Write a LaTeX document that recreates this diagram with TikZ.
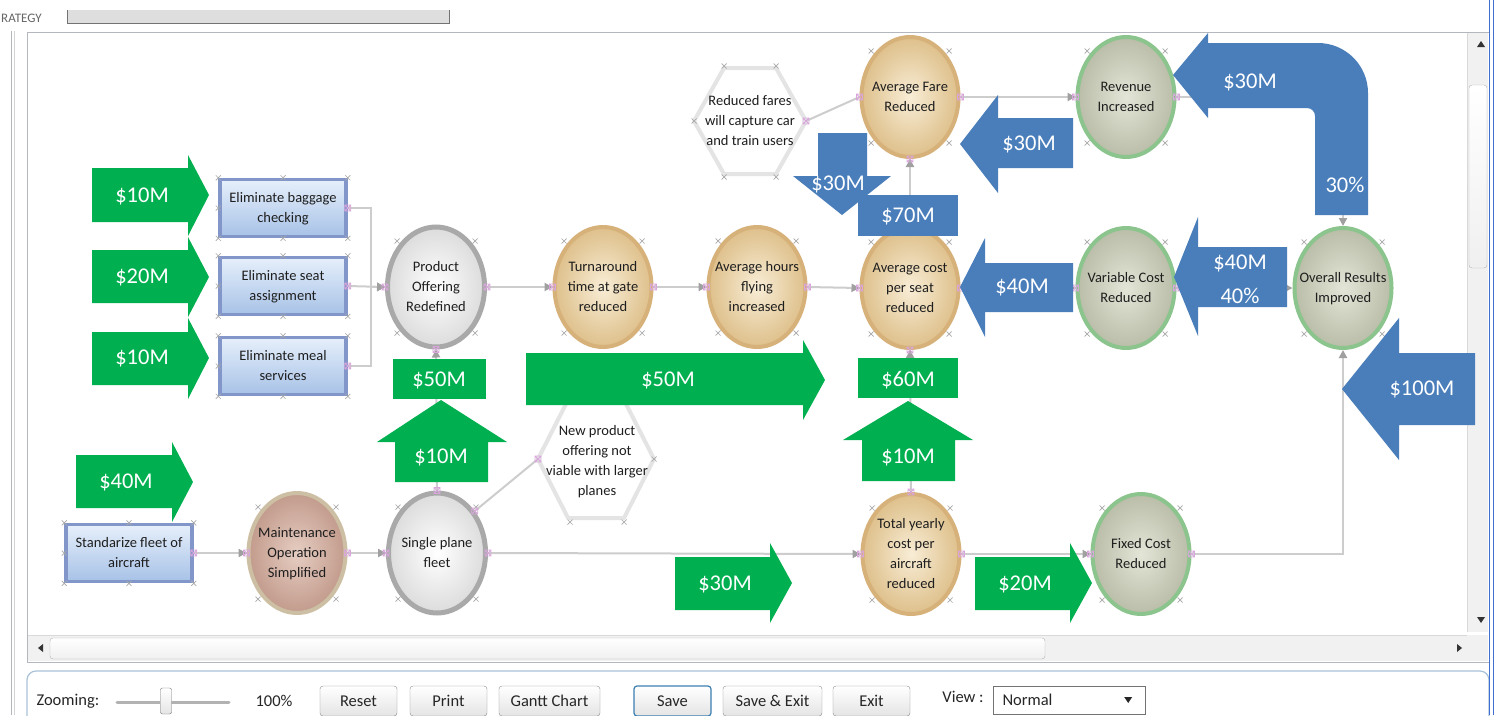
\documentclass[tikz,border=0pt]{standalone}
\usepackage{fontspec}
\setmainfont{Carlito}
\usetikzlibrary{shapes.geometric,arrows.meta,calc}

\definecolor{gArrow}{HTML}{00B050}
\definecolor{bArrow}{HTML}{4A7EBB}
\definecolor{txt}{HTML}{1E1E1E}
\definecolor{connGray}{HTML}{CDCDCD}
\definecolor{tipGray}{HTML}{A0A0A0}
\definecolor{xgray}{HTML}{A8A8A8}
\definecolor{pinkm}{HTML}{D9A6DC}
\definecolor{grayRing}{HTML}{A9A9A9}
\definecolor{grayOut}{HTML}{DCDCDC}
\definecolor{tanRing}{HTML}{D6B179}
\definecolor{tanIn}{HTML}{F8EDD6}
\definecolor{tanOut}{HTML}{DEC08B}
\definecolor{mntRing}{HTML}{CDBFA4}
\definecolor{mntIn}{HTML}{E6CDC2}
\definecolor{mntOut}{HTML}{C29B8C}
\definecolor{grnRing}{HTML}{8CC48E}
\definecolor{grnIn}{HTML}{E3E5D7}
\definecolor{grnOut}{HTML}{BABDA8}
\definecolor{boxRing}{HTML}{8396C9}
\definecolor{boxTop}{HTML}{E6EFFB}
\definecolor{boxBot}{HTML}{A7C2E7}
\definecolor{hexRing}{HTML}{E4E4E4}
\definecolor{frameGray}{HTML}{B4B8BE}
\definecolor{sbBg}{HTML}{F1F1F1}
\definecolor{thumbRing}{HTML}{B5B5B5}
\definecolor{toolRing}{HTML}{A9C2DA}
\definecolor{btnRing}{HTML}{8C8C8C}
\definecolor{btnBot}{HTML}{E4E4E4}
\definecolor{saveBlue}{HTML}{3C7FB1}
\definecolor{edgeBlue}{HTML}{3F6FD0}

% text of a node, centred on the node without widening its shape
\newcommand\nodetxt[1]{\makebox[0pt]{\begin{tabular}{@{}c@{}}#1\end{tabular}}}

\tikzset{
  every node/.style={font=\fontsize{14.5}{20}\selectfont, text=txt},
  circ/.style={ellipse, minimum width=97, minimum height=120, inner sep=0, line width=4},
  graycirc/.style={circ, draw=grayRing, line width=5, inner color=white, outer color=grayOut},
  tancirc/.style={circ, draw=tanRing, inner color=tanIn, outer color=tanOut},
  mntcirc/.style={circ, draw=mntRing, inner color=mntIn, outer color=mntOut},
  grncirc/.style={circ, draw=grnRing, inner color=grnIn, outer color=grnOut},
  actbox/.style={rectangle, draw=boxRing, line width=3.5, top color=boxTop, bottom color=boxBot,
    minimum width=126, minimum height=57, inner sep=0},
  hexline/.style={draw=hexRing, line width=4, fill=white, line join=round},
  cline/.style={draw=connGray, line width=2},
  carrow/.style={cline, -{Triangle[length=8pt,width=8pt,color=tipGray]}},
  glabel/.style={font=\fontsize{22.5}{26}\selectfont, text=white, inner sep=0},
  uitext/.style={font=\fontsize{16.5}{18}\selectfont, text=black!85},
  btn/.style={rectangle, draw=btnRing, rounded corners=3, top color=white, bottom color=btnBot,
    minimum height=30, inner sep=0, uitext},
  xm/.pic={\draw[xgray, line width=0.7pt] (-2.5,-2.5) -- (2.5,2.5) (-2.5,2.5) -- (2.5,-2.5);},
  pm/.pic={\draw[pinkm, line width=0.8pt] (-3,-3) rectangle (3,3) (-3,-3) -- (3,3) (-3,3) -- (3,-3);}
}

\begin{document}
\begin{tikzpicture}[x=1pt, y=-1pt]
\useasboundingbox (0,0) rectangle (1496,715);
\fill[white] (0,0) rectangle (1496,715);

% ---------- window chrome ----------
\node[anchor=west, font=\fontsize{13}{14}\selectfont, text=black!60, inner sep=0] (hdr) at (1,18) {RATEGY};
\fill[black!13] (67,10) rectangle (450,23);
\draw[black!55, line width=1] (67.5,10) -- (67.5,23) -- (449.5,23) -- (449.5,10);
\draw[frameGray, line width=1] (11,31) -- (11,715);
\draw[frameGray!60, line width=1] (14,31) -- (14,715);
\draw[frameGray, line width=1] (27,662) -- (27,32) -- (1489,32);

% vertical scrollbar
\fill[sbBg] (1467,33) rectangle (1488,632);
\draw[black!15] (1467,33) -- (1467,632);
\fill[black!80] (1477,47) -- (1485,47) -- (1481,41) -- cycle;
\draw[thumbRing, rounded corners=3, top color=white, bottom color=black!6] (1469,85) rectangle (1487,268);
\fill[black!80] (1477,617) -- (1485,617) -- (1481,623) -- cycle;

% horizontal scrollbar
\fill[sbBg] (28,635) rectangle (1488,661);
\draw[black!15] (28,635) -- (1467,635);
\fill[black!80] (43,644) -- (43,652) -- (38,648) -- cycle;
\fill[black!80] (1457,644) -- (1457,652) -- (1462,648) -- cycle;
\draw[thumbRing, rounded corners=3, top color=white, bottom color=black!6] (50,638) rectangle (1045,659);
\draw[frameGray, line width=1] (27,662) -- (1489,662);

% toolbar
\draw[toolRing, line width=1.2, rounded corners=9] (27,735) -- (27,671) -- (1489,671) -- (1489,735);
\node[uitext, anchor=west] (zoomtxt) at (33,701) {Zooming:};
\draw[black!30, line width=3, line cap=round] (117,702) -- (229,702);
\node[draw=black!55, rounded corners=2, top color=white, bottom color=black!10,
      minimum width=11, minimum height=26, inner sep=0] (zthumb) at (166,701) {};
\node[uitext] (zoompct) at (274,701) {100\%};
\node[btn, minimum width=77] (breset) at (358.5,701) {Reset};
\node[btn, minimum width=77] (bprint) at (448.5,701) {Print};
\node[btn, minimum width=101] (bgantt) at (549.5,701) {Gantt Chart};
\node[btn, minimum width=77, draw=saveBlue, line width=1.2] (bsave) at (672.5,701) {Save};
\node[btn, minimum width=99] (bsavex) at (772.5,701) {Save \& Exit};
\node[btn, minimum width=77] (bexit) at (871.5,701) {Exit};
\node[uitext] (viewtxt) at (963,697) {View :};
\node[rectangle, draw=black!55, fill=white, minimum width=152, minimum height=28, inner sep=0] (view) at (1069,700) {};
\node[uitext, anchor=west] (viewval) at (999,700) {Normal};
\fill[black!85] ([xshift=-21,yshift=3]view.east) -- ([xshift=-13,yshift=3]view.east) -- ([xshift=-17,yshift=-3]view.east) -- cycle;

% right edge of the window
\draw[edgeBlue, line width=1] (1489.5,0) -- (1489.5,715);
\draw[edgeBlue, line width=1] (1493.5,0) -- (1493.5,715);

% ---------- hexagon notes ----------
\draw[hexline] (694,121) -- (724,68) -- (776,68) -- (806,121) -- (776,174) -- (724,174) -- cycle;
\node (rf) at (750,121) {\nodetxt{Reduced fares\\will capture car\\and train users}};
\coordinate (rf-e) at (806,121);
\draw[hexline] (538,459) -- (568,400) -- (624,400) -- (654,459) -- (624,518) -- (568,518) -- cycle;
\node (np) at (597,461) {\nodetxt{New product\\offering not\\viable with larger\\planes}};
\coordinate (np-w) at (538,459);
\foreach \p in {(694,121),(724,66),(776,66),(724,177),(776,177),(654,459),(570,522),(624,522)}
  \pic at \p {xm};

% ---------- action boxes ----------
\node[actbox] (bag) at (283,208) {\nodetxt{Eliminate baggage\\checking}};
\node[actbox] (seat) at (283,286) {\nodetxt{Eliminate seat\\assignment}};
\node[actbox] (meal) at (283,366) {\nodetxt{Eliminate meal\\services}};
\node[actbox] (std) at (129,553) {\nodetxt{Standarize fleet of\\aircraft}};

% ---------- outcome circles ----------
\node[graycirc] (po) at (436,287) {\nodetxt{Product\\Offering\\Redefined}};
\node[tancirc] (ta) at (603,287) {\nodetxt{Turnaround\\time at gate\\reduced}};
\node[tancirc] (ah) at (757,287) {\nodetxt{Average hours\\flying\\increased}};
\node[tancirc] (ac) at (910,288) {\nodetxt{Average cost\\per seat\\reduced}};
\node[tancirc] (af) at (910,97) {\nodetxt{Average Fare\\Reduced}};
\node[grncirc] (rev) at (1126,97) {\nodetxt{Revenue\\Increased}};
\node[grncirc] (vc) at (1126,288) {\nodetxt{Variable Cost\\Reduced}};
\node[grncirc] (orr) at (1343,288) {\nodetxt{Overall Results\\Improved}};
\node[mntcirc] (mo) at (297,553) {\nodetxt{Maintenance\\Operation\\Simplified}};
\node[graycirc] (sp) at (437,553) {\nodetxt{Single plane\\fleet}};
\node[tancirc] (ty) at (911,554) {\nodetxt{Total yearly\\cost per\\aircraft\\reduced}};
\node[grncirc] (fc) at (1141,554) {\nodetxt{Fixed Cost\\Reduced}};

% selection handles
\foreach \n in {po,ta,ah,ac,af,rev,vc,orr,mo,sp,ty,fc}{
  \foreach \dx/\dy in {-39/-46,39/-46,-39/46,39/46}
    \pic at ($(\n.center)+(\dx,\dy)$) {xm};
}
\foreach \n in {bag,seat,meal,std}{
  \foreach \a in {north west,north,north east,south west,south,south east,west}
    \pic at (\n.\a) {xm};
}

% ---------- connectors ----------
\draw[carrow] (bag.east) -| ($(po.west)+(-14,0)$) -- (po.west);
\draw[carrow] (meal.east) -| ($(po.west)+(-14,0)$) -- (po.west);
\draw[carrow] (seat.east) -- (po.west);
\draw[carrow] (po.east) -- (ta.west);
\draw[carrow] (ta.east) -- (ah.west);
\draw[carrow] (ah.east) -- (ac.west);
\draw[carrow] (ac.north) -- (af.south);
\draw[cline] (rf-e) -- (af.west);
\draw[carrow] (af.east) -- (rev.west);
\draw[carrow] (rev.east) -| (orr.north);
\draw[carrow] (ac.east) -- (vc.west);
\draw[carrow] (vc.east) -- (orr.west);
\draw[carrow] (std.east) -- (mo.west);
\draw[carrow] (mo.east) -- (sp.west);
\draw[carrow] (sp.east) -- (ty.west);
\draw[carrow] (sp.north) -- (po.south);
\draw[cline] (sp.48) -- (np-w);
\draw[carrow] (ty.north) -- (ac.south);
\draw[carrow] (ty.east) -- (fc.west);
\draw[carrow] (fc.east) -| (orr.south);

% connection ports
\foreach \p in {bag.east,seat.east,meal.east,po.west,po.east,po.south,ta.west,ta.east,
                ah.west,ah.east,ac.west,ac.east,ac.north,ac.south,af.south,af.west,af.east,
                rev.west,rev.east,vc.west,vc.east,std.east,mo.west,mo.east,sp.west,sp.east,
                sp.north,sp.48,ty.west,ty.east,ty.north,fc.west,fc.east}
  \pic at (\p) {pm};
\pic at (rf-e) {pm};
\pic at (np-w) {pm};

% ---------- green value arrows ----------
\fill[gArrow] (92,168) -- (188,168) -- (188,155) -- (209,195) -- (188,236) -- (188,222) -- (92,222) -- cycle;
\node[glabel] (g1) at (142,196) {\$10M};
\fill[gArrow] (92,250) -- (188,250) -- (188,237) -- (209,277) -- (188,317) -- (188,303) -- (92,303) -- cycle;
\node[glabel] (g2) at (142,277) {\$20M};
\fill[gArrow] (92,332) -- (188,332) -- (188,318) -- (209,358) -- (188,399) -- (188,385) -- (92,385) -- cycle;
\node[glabel] (g3) at (142,358) {\$10M};
\fill[gArrow] (76,455) -- (172,455) -- (172,442) -- (193,482) -- (172,522) -- (172,508) -- (76,508) -- cycle;
\node[glabel] (g4) at (126,482) {\$40M};
\fill[gArrow] (393,359) rectangle (486,399);
\node[glabel] (g5) at (439,380) {\$50M};
\fill[gArrow] (395,482) -- (395,442) -- (377,442) -- (441,400) -- (507,442) -- (488,442) -- (488,482) -- cycle;
\node[glabel] (g6) at (441,457) {\$10M};
\fill[gArrow] (526,353) -- (803,353) -- (803,340) -- (825,380) -- (803,420) -- (803,405) -- (526,405) -- cycle;
\node[glabel] (g7) at (668,380) {\$50M};
\fill[gArrow] (858,358) rectangle (958,398);
\node[glabel] (g8) at (908,380) {\$60M};
\fill[gArrow] (862,481) -- (862,440) -- (843,440) -- (908,401) -- (973,440) -- (955,440) -- (955,481) -- cycle;
\node[glabel] (g9) at (908,457) {\$10M};
\fill[gArrow] (675,557) -- (770,557) -- (770,543) -- (792,583) -- (770,623) -- (770,610) -- (675,610) -- cycle;
\node[glabel] (g10) at (725,584) {\$30M};
\fill[gArrow] (975,557) -- (1070,557) -- (1070,543) -- (1092,583) -- (1070,623) -- (1070,610) -- (975,610) -- cycle;
\node[glabel] (g11) at (1025,584) {\$20M};

% ---------- blue value arrows ----------
\fill[bArrow] (960,144) -- (998,95) -- (998,118) -- (1073,118) -- (1073,168) -- (998,168) -- (998,193) -- cycle;
\node[glabel] (b1) at (1029,144) {\$30M};
\fill[bArrow] (960,287) -- (985,238) -- (985,263) -- (1073,263) -- (1073,312) -- (985,312) -- (985,337) -- cycle;
\node[glabel] (b2) at (1022,287) {\$40M};
\fill[bArrow] (1174,277) -- (1198,217) -- (1198,247) -- (1287,247) -- (1287,307) -- (1198,307) -- (1198,336) -- cycle;
\node[glabel, align=center, font=\fontsize{22.5}{34}\selectfont] (b3) at (1240,279) {\$40M\\40\%};
\fill[bArrow] (1342,389) -- (1399,318) -- (1399,353) -- (1475,353) -- (1475,425) -- (1399,425) -- (1399,460) -- cycle;
\node[glabel] (b4) at (1422,389) {\$100M};
\fill[bArrow] (1173,75) -- (1208,33) -- (1208,43) -- (1318,43)
  .. controls (1345.6,43) and (1368,65.4) .. (1368,93) -- (1368,215) -- (1315,215) -- (1315,116)
  .. controls (1315,111.6) and (1311.4,108) .. (1307,108) -- (1208,108) -- (1208,118) -- cycle;
\node[glabel] (b5) at (1250,82) {\$30M};
\node[glabel] (b6) at (1345,185) {30\%};
\fill[bArrow] (818,133) -- (867,133) -- (867,176) -- (891,176) -- (842,215) -- (793,176) -- (818,176) -- cycle;
\fill[bArrow] (858,195) rectangle (958,236);
\node[glabel] (b7) at (838,184) {\$30M};
\node[glabel] (b8) at (908,216) {\$70M};

\end{tikzpicture}
\end{document}
